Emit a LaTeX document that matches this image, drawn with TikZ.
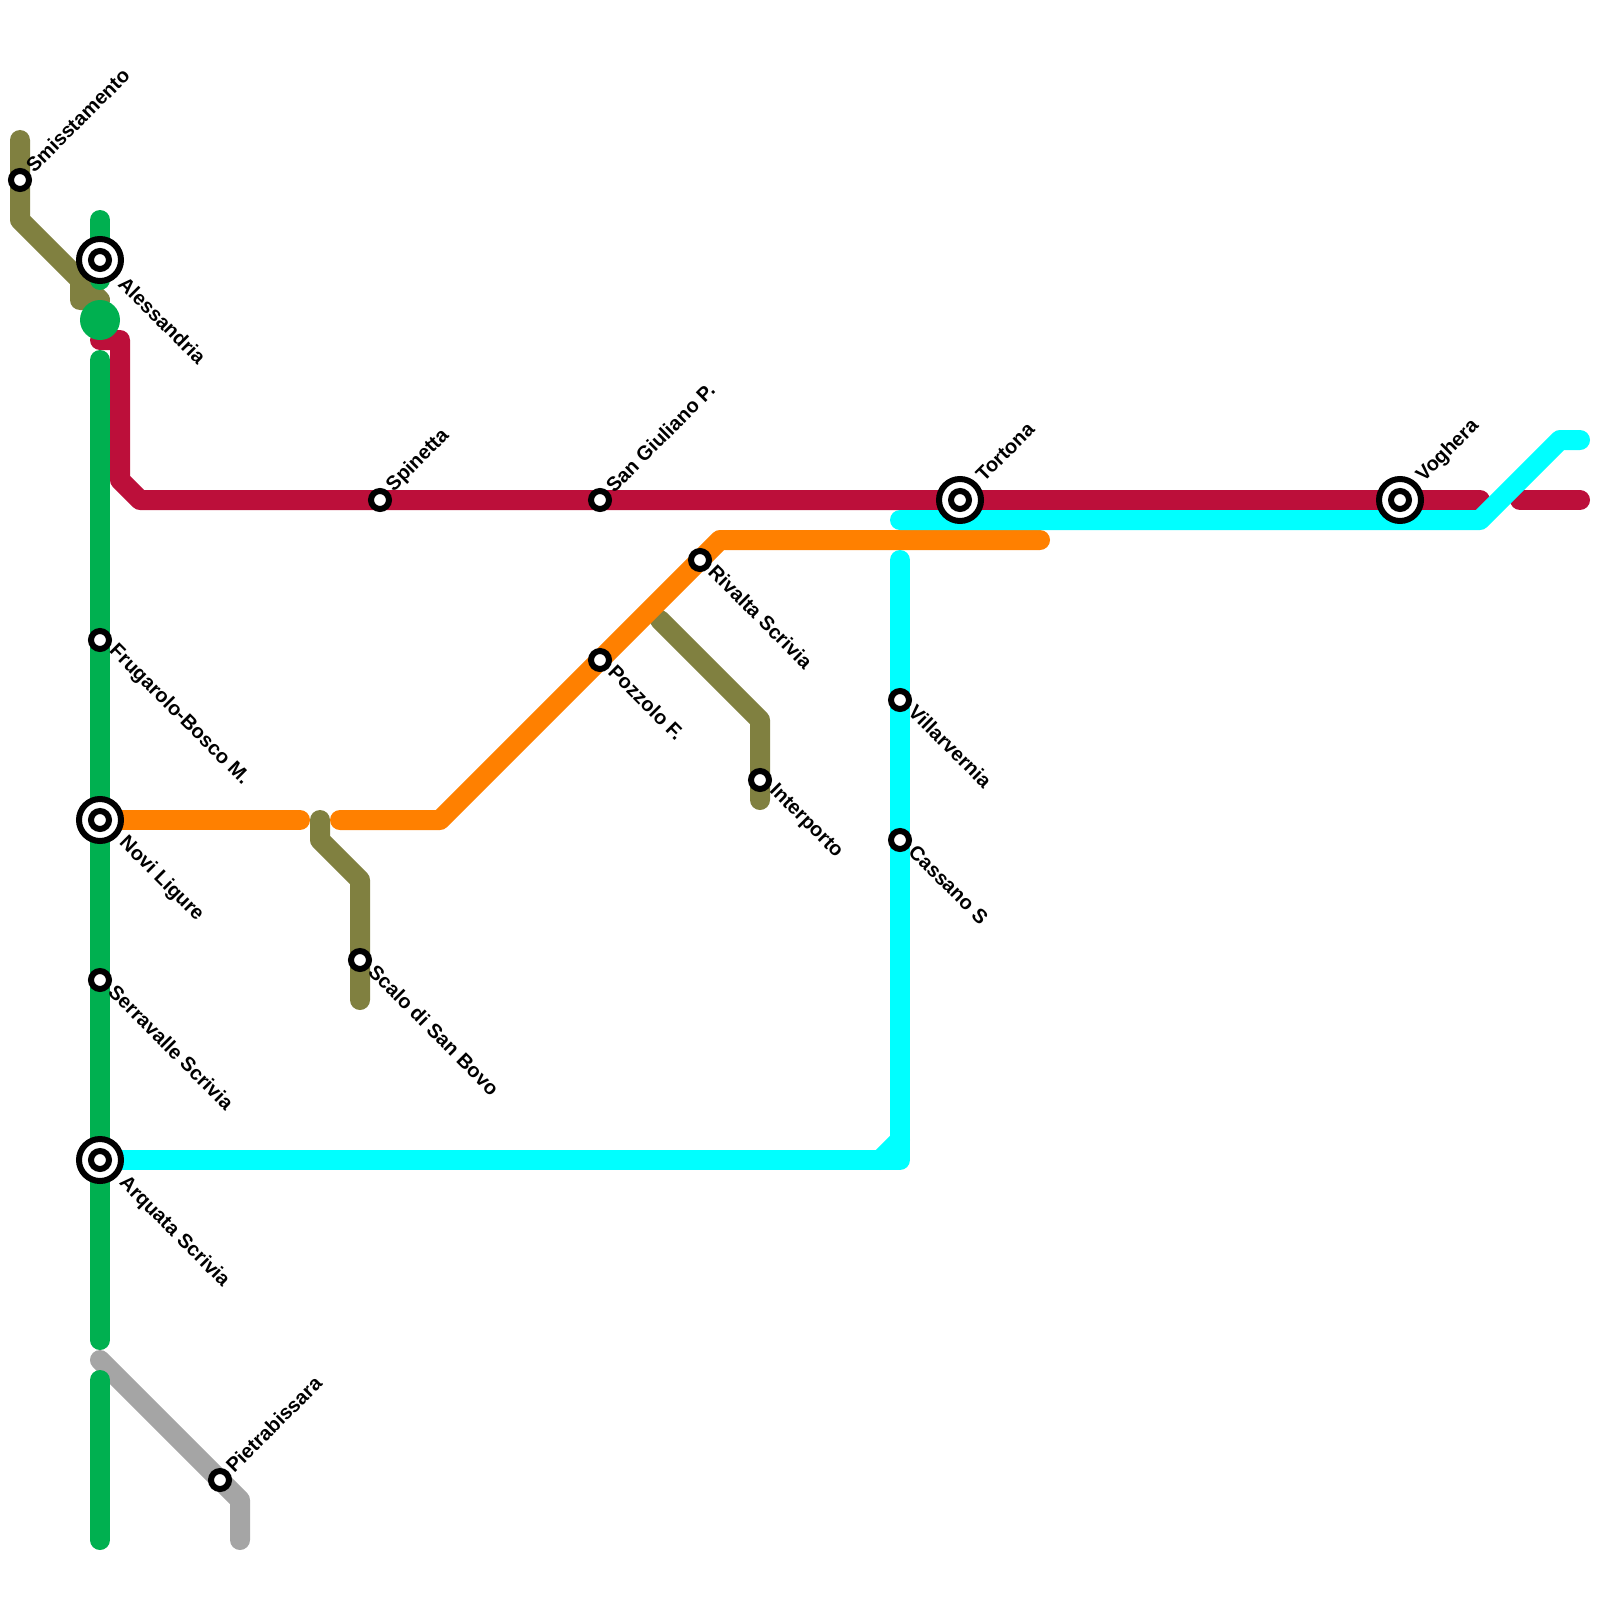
\documentclass[tikz,border=0pt]{standalone}
\usepackage{fontspec}
\setmainfont{Liberation Sans}
\definecolor{cOlive}{HTML}{808040}
\definecolor{cGreen}{HTML}{00B050}
\definecolor{cCrim}{HTML}{BC0F3A}
\definecolor{cOrange}{HTML}{FF8000}
\definecolor{cCyan}{HTML}{00FFFF}
\definecolor{cGrey}{HTML}{A5A5A5}
\tikzset{
  x=0.5pt,y=-0.5pt,
  mline/.style={line width=10pt,line cap=round,line join=round,draw=#1},
  small/.style={circle,draw=black,fill=white,line width=3pt,minimum size=9pt,inner sep=0pt,outer sep=0pt},
  big/.style={circle,draw=black,fill=white,line width=3pt,minimum size=21pt,inner sep=0pt,outer sep=0pt},
  dot/.style={circle,draw=black,fill=white,line width=3pt,minimum size=9pt,inner sep=0pt,outer sep=0pt},
  up/.style={font=\fontsize{10pt}{10pt}\selectfont\bfseries,rotate=45,anchor=west,inner sep=0pt,text=black},
  down/.style={font=\fontsize{10pt}{10pt}\selectfont\bfseries,rotate=-45,anchor=west,inner sep=0pt,text=black},
}
\begin{document}
\begin{tikzpicture}
\useasboundingbox (0,0) rectangle (1600,1600);
% olive
\draw[mline=cOlive] (20,140) -- (20,220) -- (100,300) -- (80,300) -- (80,280);
\draw[mline=cOlive] (320,820) -- (320,840) -- (360,880) -- (360,1000);
\draw[mline=cOlive] (660,620) -- (760,720) -- (760,800);
% grey
\draw[mline=cGrey] (100,1360) -- (240,1500) -- (240,1540);
% crimson
\draw[mline=cCrim] (100,340) -- (120,340) -- (120,480) -- (140,500) -- (1480,500);
\draw[mline=cCrim] (1520,500) -- (1580,500);
% green
\draw[mline=cGreen] (100,220) -- (100,280);
\fill[cGreen] (100,320) circle[radius=20];
\draw[mline=cGreen] (100,360) -- (100,1340);
\draw[mline=cGreen] (100,1380) -- (100,1540);
% orange
\draw[mline=cOrange] (120,820) -- (300,820);
\draw[mline=cOrange] (340,820) -- (440,820) -- (720,540) -- (1040,540);
% cyan
\draw[mline=cCyan] (900,520) -- (1480,520) -- (1560,440) -- (1580,440);
\draw[mline=cCyan] (900,560) -- (900,1160) -- (120,1160);
\draw[mline=cCyan] (880,1160) -- (900,1140);
% stations
\foreach \n/\x/\y in {a/100/260,b/100/820,c/100/1160,d/960/500,e/1400/500}{
  \node[big] (\n) at (\x,\y) {};
  \node[dot] (\n i) at (\x,\y) {};
}
\foreach \n/\x/\y in {s1/20/180,s2/100/640,s3/100/980,s4/220/1480,s5/380/500,s6/600/500,s7/700/560,s8/600/660,s9/760/780,s10/900/700,s11/900/840,s12/360/960}{
  \node[small] (\n) at (\x,\y) {};
}
% labels
\node[up] (l1) at (29,169) {Smisstamento};
\node[down] (l2) at (122,280) {Alessandria};
\node[down] (l3) at (112,648) {Frugarolo-Bosco M.};
\node[down] (l4) at (122,840) {Novi Ligure};
\node[down] (l5) at (112,988) {Serravalle Scrivia};
\node[down] (l6) at (122,1180) {Arquata Scrivia};
\node[up] (l7) at (229,1469) {Pietrabissara};
\node[up] (l8) at (390,489) {Spinetta};
\node[up] (l9) at (609,489) {San Giuliano P.};
\node[up] (l10) at (979,478) {Tortona};
\node[up] (l11) at (1420,479) {Voghera};
\node[down] (l12) at (712,568) {Rivalta Scrivia};
\node[down] (l13) at (612,668) {Pozzolo F.};
\node[down] (l14) at (772,788) {Interporto};
\node[down] (l15) at (912,708) {Villarvernia};
\node[down] (l16) at (912,848) {Cassano S};
\node[down] (l17) at (372,968) {Scalo di San Bovo};
\end{tikzpicture}
\end{document}
